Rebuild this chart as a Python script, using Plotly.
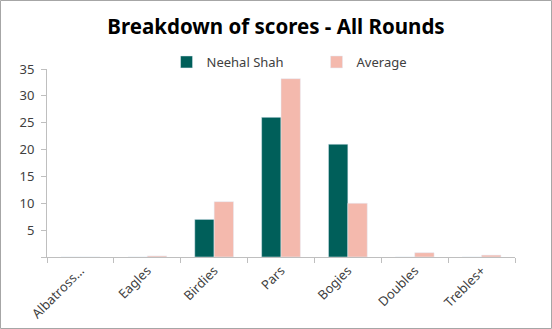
import plotly.graph_objects as go

categories = ["Albatross…", "Eagles", "Birdies", "Pars", "Bogies", "Doubles", "Trebles+"]
neehal = [0, 0, 7, 26, 21, 0, 0]
average = [0, 0.2, 10.3, 33.2, 10.0, 0.8, 0.35]
y_ticks = [0, 5, 10, 15, 20, 25, 30, 35]
y_ticktext = ["", "5", "10", "15", "20", "25", "30", "35"]

font = "Noto Sans, Open Sans, sans-serif"
fig = go.Figure()
fig.add_trace(go.Bar(x=categories, y=neehal, name="Neehal Shah", marker_color="#005F5A"))
fig.add_trace(go.Bar(x=categories, y=average, name="Average", marker_color="#F4B9AD"))

fig.update_layout(
    width=552, height=329,
    margin=dict(l=47, r=37, t=69, b=72, autoexpand=False),
    paper_bgcolor="white", plot_bgcolor="white",
    barmode="group", bargap=0.42, bargroupgap=0,
    font=dict(family=font, size=13, color="#404040"),
    title=dict(text="<b>Breakdown of scores - All Rounds</b>", x=0.5, xanchor="center",
               y=1 - 27/329, yanchor="middle", font=dict(size=20.5, color="black", family=font)),
    legend=dict(orientation="h", x=141/552, xanchor="left", y=1 - 62/329, yref="container",
                yanchor="middle", font=dict(size=13, color="#404040"), entrywidth=105,
                itemwidth=30, traceorder="normal"),
    showlegend=True,
)
fig.update_xaxes(type="category", showline=True, linecolor="#BFBFBF", linewidth=1,
                 ticks="outside", ticklen=5, tickcolor="#BFBFBF", tickson="boundaries",
                 tickangle=-45, showgrid=False, tickfont=dict(size=13, color="#404040"))
fig.update_yaxes(range=[0, 35], tickvals=y_ticks, ticktext=y_ticktext, showline=True,
                 linecolor="#BFBFBF", linewidth=1, ticks="outside", ticklen=5,
                 tickcolor="#BFBFBF", showgrid=False, zeroline=False,
                 ticklabelstandoff=4, tickfont=dict(size=13, color="#404040"))
fig.add_shape(type="rect", xref="paper", yref="paper",
              x0=-46.5/468, x1=1+36.5/468, y0=-71.5/188, y1=1+68.5/188,
              line=dict(color="#A6A6A6", width=1))
fig.write_html("out.html")
